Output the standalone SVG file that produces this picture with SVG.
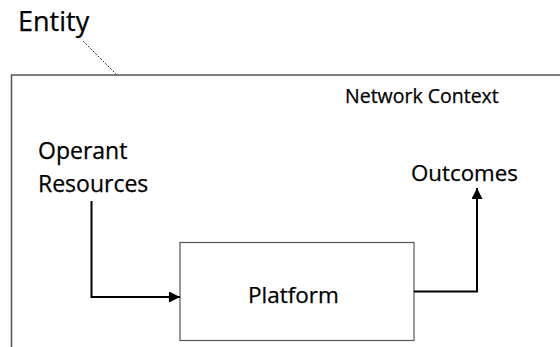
<svg xmlns="http://www.w3.org/2000/svg" width="560" height="347" viewBox="0 0 560 347">
<style>
text{font-family:"Open Sans","Noto Sans",sans-serif;fill:#000;stroke:#000;stroke-width:0.25}
.frame{fill:none;stroke:#555;stroke-width:1.5}
.box{fill:#fff;stroke:#555;stroke-width:1.2}
.conn{fill:none;stroke:#000;stroke-width:2}
</style>
<defs>
<marker id="ah" viewBox="0 0 10 10" refX="10" refY="5" markerWidth="11" markerHeight="11" markerUnits="userSpaceOnUse" orient="auto">
<path d="M0,0 L10,5 L0,10 Z" fill="#000"/>
</marker>
</defs>
<g id="entity">
<text x="18" y="31" font-size="27">Entity</text>
<line x1="83" y1="41" x2="117" y2="75" stroke="#333" stroke-width="1" stroke-dasharray="2,1.5"/>
</g>
<g id="network-context">
<rect class="frame" x="11.5" y="75" width="560" height="290"/>
<text x="345" y="103" font-size="19.5">Network Context</text>
</g>
<g id="operant-resources">
<text x="38" y="159" font-size="23">Operant</text>
<text x="38" y="192" font-size="23">Resources</text>
</g>
<g id="platform">
<rect class="box" x="180" y="242.5" width="234" height="98"/>
<text x="248" y="303" font-size="22.5">Platform</text>
</g>
<g id="outcomes">
<text x="411" y="181" font-size="22.3">Outcomes</text>
</g>
<g id="connectors">
<polyline class="conn" points="91.5,201 91.5,297 180,297" marker-end="url(#ah)"/>
<polyline class="conn" points="414,291.5 477,291.5 477,188" marker-end="url(#ah)"/>
</g>
</svg>
